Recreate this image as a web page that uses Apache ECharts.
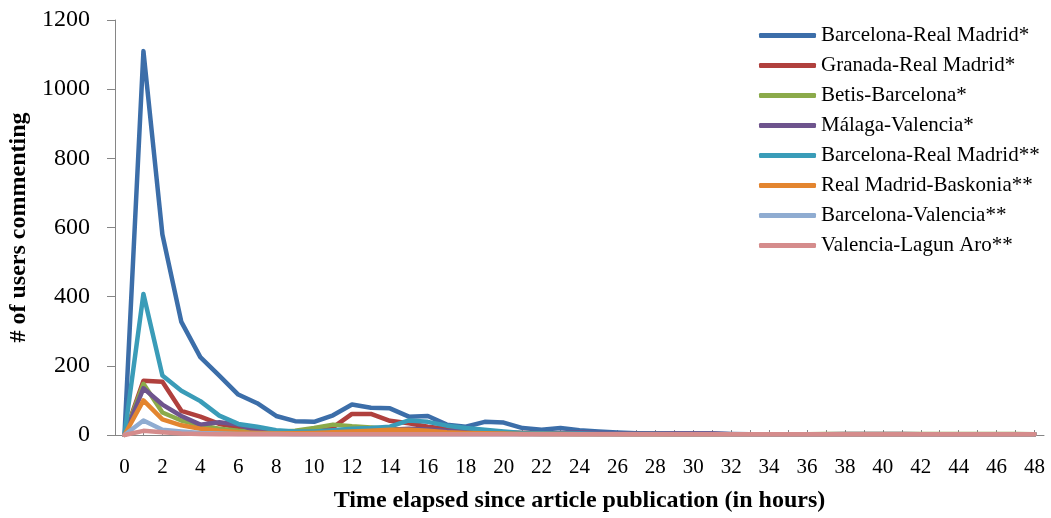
<!DOCTYPE html>
<html>
<head>
<meta charset="utf-8">
<script src="https://cdn.jsdelivr.net/npm/echarts@6/dist/echarts.min.js"></script>
<style>html,body{margin:0;padding:0;background:#fff}#c{width:1051px;height:518px}</style>
</head>
<body>
<div id="c"></div>
<script>
var hours = [];
for (var h = 0; h <= 48; h++) hours.push(String(h));

var seriesNames = [
  "Barcelona-Real Madrid*",
  "Granada-Real Madrid*",
  "Betis-Barcelona*",
  "Málaga-Valencia*",
  "Barcelona-Real Madrid**",
  "Real Madrid-Baskonia**",
  "Barcelona-Valencia**",
  "Valencia-Lagun Aro**"
];
var seriesColors = ["#3C6EA9", "#B0403D", "#8BAA4A", "#6E548D", "#3A9CB8", "#E3852F", "#8FACD1", "#D58C8C"];

var barcaMadrid1 = [0,1110,580,327,225,172,117,92,55,40,38,57,88,79,77,53,55,30,24,38,36,20,15,20,14,10,7,5,4,4,4,4,3,2,2,2,2,2,2,2,2,2,2,2,2,2,2,2,2];
var granadaMadrid = [0,157,154,70,53,32,22,13,9,8,10,22,61,61,41,34,24,18,13,10,8,6,5,5,4,4,3,3,3,2,2,2,2,2,2,2,2,2,2,2,2,2,2,2,2,2,2,2,2];
var betisBarca = [0,148,65,42,28,18,12,9,8,12,20,30,25,22,18,13,10,8,6,5,4,4,3,3,3,3,3,2,2,2,2,2,2,2,2,2,2,3,3,3,3,3,3,3,3,3,3,3,2];
var malagaValencia = [0,135,88,55,30,37,30,12,7,5,5,5,8,12,15,18,16,12,10,8,6,5,5,6,8,6,5,4,4,4,4,4,2,2,2,2,2,2,3,3,3,3,2,2,2,2,2,2,2];
var barcaMadrid2 = [0,408,172,128,98,56,32,24,14,10,10,14,18,20,24,42,38,27,20,15,10,6,5,4,4,3,3,3,3,2,2,2,2,2,2,2,2,2,2,2,2,2,2,2,2,2,2,2,2];
var madridBaskonia = [0,100,45,28,18,12,8,6,5,5,6,8,10,12,15,15,12,8,6,5,4,3,3,3,2,2,2,2,2,2,2,2,2,2,2,2,2,2,2,2,2,2,2,2,2,2,2,2,2];
var barcaValencia = [0,42,15,10,6,4,3,3,3,2,2,2,2,2,2,2,2,2,2,2,2,2,2,2,2,2,2,2,2,2,2,2,2,2,2,2,2,2,2,2,2,2,2,2,2,2,2,2,2];
var valenciaLagun = [0,12,8,4,3,2,2,2,2,2,2,2,2,2,2,2,2,2,2,2,2,2,2,2,2,2,2,2,2,2,2,2,2,2,2,2,2,2,2,2,2,2,2,2,2,2,2,2,2];

var seriesData = [barcaMadrid1, granadaMadrid, betisBarca, malagaValencia, barcaMadrid2, madridBaskonia, barcaValencia, valenciaLagun];
var yTicks = [0, 200, 400, 600, 800, 1000, 1200];

var FONT = "'Liberation Serif', 'Times New Roman', serif";
var chart = echarts.init(document.getElementById('c'));
chart.setOption({
  animation: false,
  backgroundColor: '#fff',
  grid: { left: 115, right: 7, top: 20, bottom: 83, containLabel: false, outerBoundsMode: 'none' },
  legend: {
    orient: 'vertical',
    left: 759,
    top: 25,
    padding: 0,
    itemWidth: 57,
    itemHeight: 5,
    itemGap: 9,
    icon: 'roundRect',
    textStyle: { fontFamily: FONT, fontSize: 21, color: '#000', lineHeight: 20 },
    data: seriesNames
  },
  xAxis: {
    type: 'category',
    data: hours,
    boundaryGap: true,
    name: 'Time elapsed since article publication (in hours)',
    nameLocation: 'middle',
    nameGap: 54,
    nameTextStyle: { fontFamily: FONT, fontSize: 24, fontWeight: 'bold', color: '#000' },
    axisLine: { show: true, lineStyle: { color: '#868686', width: 1 } },
    axisTick: { show: true, inside: true, alignWithLabel: true, interval: 0, length: 5, lineStyle: { color: '#868686' } },
    axisLabel: { interval: 1, fontFamily: FONT, fontSize: 21, color: '#000', margin: 22 },
    splitLine: { show: false }
  },
  yAxis: {
    type: 'value',
    min: yTicks[0],
    max: yTicks[yTicks.length - 1],
    interval: 200,
    name: '# of users commenting',
    nameLocation: 'middle',
    nameRotate: 90,
    nameGap: 83,
    nameTextStyle: { fontFamily: FONT, fontSize: 24, fontWeight: 'bold', color: '#000' },
    axisLine: { show: true, lineStyle: { color: '#868686', width: 1 } },
    axisTick: { show: true, inside: false, length: 8, lineStyle: { color: '#868686' } },
    axisLabel: { fontFamily: FONT, fontSize: 24, color: '#000', margin: 25, formatter: function (v) { return String(v); } },
    splitLine: { show: false }
  },
  series: seriesNames.map(function (n, i) {
    return {
      name: n,
      type: 'line',
      data: seriesData[i],
      symbol: 'none',
      showSymbol: false,
      color: seriesColors[i],
      lineStyle: { width: 4.5, color: seriesColors[i], cap: 'round', join: 'round' },
      z: 2 + i
    };
  })
});
</script>
</body>
</html>
